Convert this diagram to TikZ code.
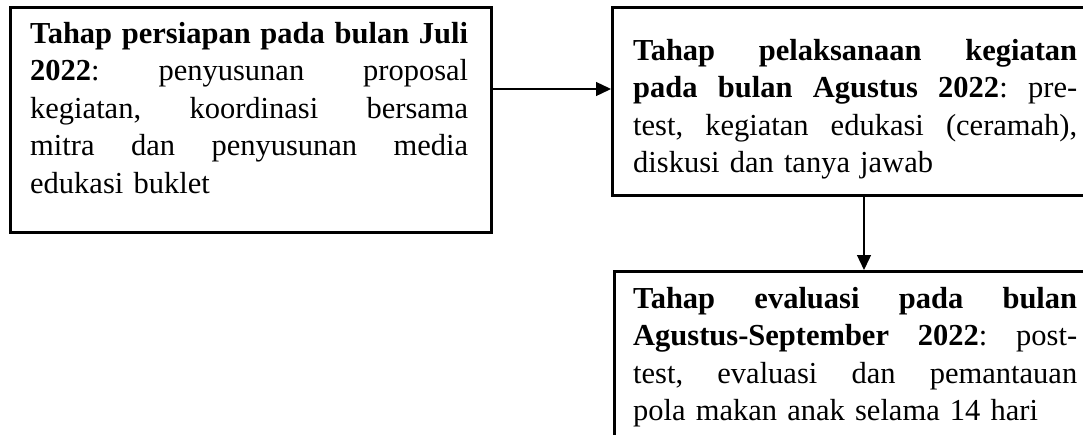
\documentclass[tikz,border=0pt]{standalone}
\usepackage{fontspec}
\setmainfont{Liberation Serif}
\usetikzlibrary{arrows.meta,calc}
\newcommand\jline[2]{\leavevmode\hbox to #1{#2}}
\tikzset{
  stagebox/.style={draw=black, line width=2.5pt, anchor=north west, inner sep=0pt},
  stagetext/.style={anchor=base west, inner sep=0pt, align=left,
    font=\fontsize{30.5}{37.5}\selectfont},
  flow/.style={line width=1.3pt, -{Triangle[length=15pt,width=14pt]}}
}
\begin{document}
\begin{tikzpicture}[x=1pt,y=-1pt]
\clip (0,0) rectangle (1083,434);
\fill[white] (0,0) rectangle (1083,434);
\node[stagebox, minimum width=481pt, minimum height=225pt] (b1) at (9,6) {};
\node[stagebox, minimum width=488pt, minimum height=188pt] (b2) at (611,6) {};
\node[stagebox, minimum width=488pt, minimum height=200pt] (b3) at (613,270) {};
\node[stagetext, text width=438pt] (t1) at (30,43) {%
\jline{438pt}{\textbf{Tahap\hfill persiapan\hfill pada\hfill bulan\hfill Juli}}\\
\jline{438pt}{\textbf{2022}:\hfill penyusunan\hfill proposal}\\
\jline{438pt}{kegiatan,\hfill koordinasi\hfill bersama}\\
\jline{438pt}{mitra\hfill dan\hfill penyusunan\hfill media}\\
edukasi buklet};
\node[stagetext, text width=444pt] (t2) at (633,60) {%
\jline{444pt}{\textbf{Tahap\hfill pelaksanaan\hfill kegiatan}}\\
\jline{444pt}{\textbf{pada\hfill bulan\hfill Agustus\hfill 2022}:\hfill pre-}\\
\jline{444pt}{test,\hfill kegiatan\hfill edukasi\hfill (ceramah),}\\
diskusi dan tanya jawab};
\node[stagetext, text width=444pt] (t3) at (633,308) {%
\jline{444pt}{\textbf{Tahap\hfill evaluasi\hfill pada\hfill bulan}}\\
\jline{444pt}{\textbf{Agustus-September\hfill 2022}:\hfill post-}\\
\jline{444pt}{test,\hfill evaluasi\hfill dan\hfill pemantauan}\\
pola makan anak selama 14 hari};
\draw[flow] ([yshift=-83pt]b1.north east) -- ([yshift=-83pt]b2.north west);
\draw[flow] ([xshift=253pt]b2.south west) -- ([xshift=251pt]b3.north west);
\end{tikzpicture}
\end{document}
